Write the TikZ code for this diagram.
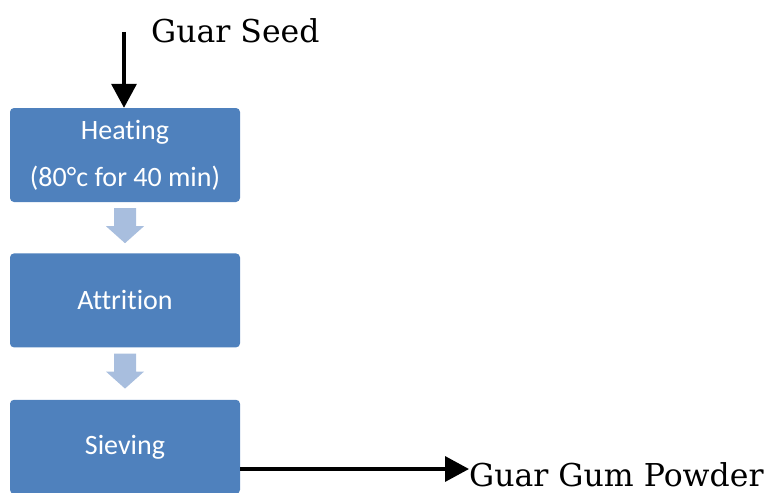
\documentclass[tikz,border=0pt]{standalone}
\usepackage{fontspec}
\setmainfont{DejaVu Serif}
\newfontfamily\boxfont[Ligatures=NoCommon]{Carlito}
\usetikzlibrary{positioning,calc,arrows.meta}
\definecolor{stepblue}{RGB}{79,129,189}
\definecolor{pale}{RGB}{168,190,222}
\tikzset{
    stepbox/.style={rounded corners=4pt, fill=stepblue, text=white, align=center,
        minimum width=230pt, minimum height=94pt, inner sep=0pt,
        font=\boxfont\fontsize{28}{47}\selectfont},
    label/.style={anchor=base west, inner sep=0pt, font=\fontsize{31.5}{36}\selectfont},
    flow/.style={line width=3.5pt, -{Triangle[length=24pt,width=25pt]}}
}
\begin{document}
\begin{tikzpicture}[x=1pt, y=-1pt]
    \useasboundingbox (0,0) rectangle (775,492);

    % Draw the process steps
    \node[stepbox] (heat) at (125,155) {Heating\\(80°c for 40 min)};
    \node[stepbox, below=51pt of heat] (attr) {Attrition};
    \node[stepbox, below=52pt of attr] (sieve) {Sieving};

    % Pale block arrows between steps
    \foreach \a in {heat, attr} {
        \fill[pale] ($(\a.south)+(-11,6)$) -- ($(\a.south)+(11,6)$)
            -- ($(\a.south)+(11,24)$) -- ($(\a.south)+(19,24)$)
            -- ($(\a.south)+(0,41)$) -- ($(\a.south)+(-19,24)$)
            -- ($(\a.south)+(-11,24)$) -- cycle;
    }

    % Input and output
    \node[label] (seed) at (151,43) {Guar Seed};
    \coordinate (seedin) at (124,32);
    \draw[flow] (seedin) -- (seedin |- heat.north);

    \node[label] (powder) at (469,486) {Guar Gum Powder};
    \coordinate (out) at (469,469);
    \draw[flow] (sieve.east |- out) -- (out);
\end{tikzpicture}
\end{document}
